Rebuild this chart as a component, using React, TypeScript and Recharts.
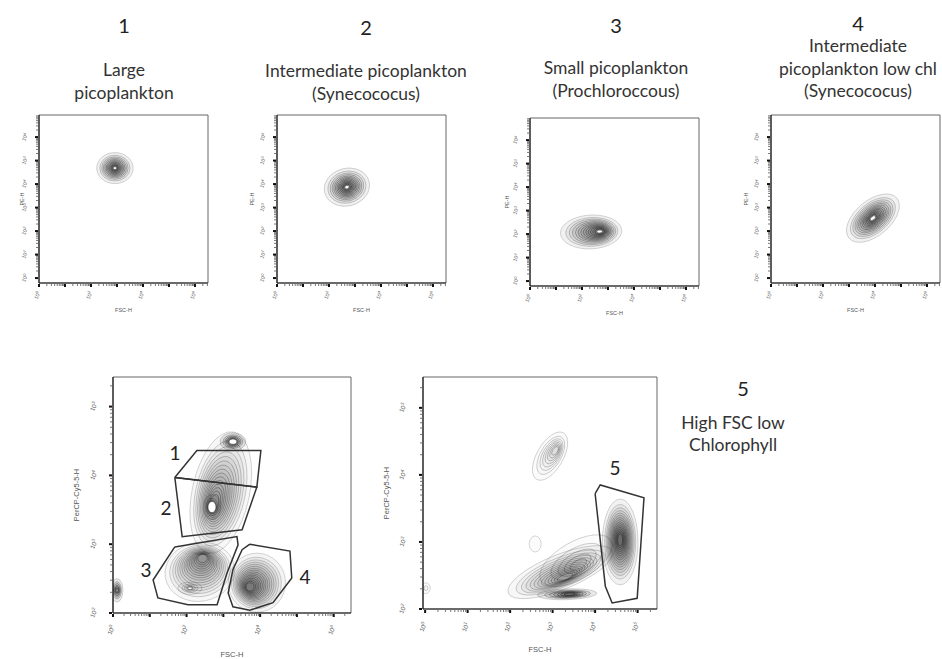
import React from "react";
import { ScatterChart, Scatter, XAxis, YAxis, ReferenceArea } from "recharts";

// ---------- text ----------
const panelNumbers = ["1", "2", "3", "4"];
const panelTitles = [
	["Large", "picoplankton"],
	["Intermediate picoplankton", "(Synecococus)"],
	["Small picoplankton", "(Prochloroccous)"],
	["Intermediate", "picoplankton low chl", "(Synecococus)"],
];
const sideNumber = "5";
const sideTitle = ["High FSC low", "Chlorophyll"];
const gateNames = ["1", "2", "3", "4", "5"];

// ---------- axis ticks (log10 exponents) ----------
const topXMajor = [0, 1, 2, 3, 4, 5, 6];
const topXLabelled = [0, 2, 4, 6];
const topYMajor = [0, 1, 2, 3, 4, 5, 6];
const gateXMajor = [0, 1, 2, 3, 4, 5, 6];
const gateXLabelled = [0, 2, 4, 6];
const gateYMajor = [2, 3, 4, 5];
const fscXMajor = [0, 1, 2, 3, 4, 5];
const fscYMajor = [2, 3, 4, 5];
const minorSteps = [0.301, 0.477, 0.602, 0.699, 0.778, 0.845, 0.903, 0.954];

// ---------- populations: centre / radii in log units, ring count, darkness, core shift ----------
const largePico = [{ x: 2.92, y: 4.68, rx: 0.7, ry: 0.66, rot: 0, levels: 11, dark: 1.1, sx: 0, sy: 0, hole: 0.08 }];
const interPico = [{ x: 2.69, y: 3.87, rx: 0.88, ry: 0.8, rot: -15, levels: 12, dark: 1.0, sx: 0, sy: 0, hole: 0.08 }];
const smallPico = [{ x: 2.35, y: 2.09, rx: 1.18, ry: 0.72, rot: -3, levels: 13, dark: 1.0, sx: 0.3, sy: 0, hole: 0.06 }];
const interLowChl = [{ x: 3.92, y: 2.55, rx: 1.2, ry: 0.75, rot: -40, levels: 13, dark: 0.9, sx: 0, sy: 0, hole: 0.1 }];

const gatedPops = [
	{ x: 2.93, y: 3.75, rx: 0.78, ry: 0.9, rot: 12, levels: 15, dark: 0.6, sx: -0.15, sy: -0.2, hole: 0 },
	{ x: 3.26, y: 4.49, rx: 0.35, ry: 0.13, rot: 0, levels: 7, dark: 1.8, sx: 0, sy: 0, hole: 0.3 },
	{ x: 2.69, y: 3.54, rx: 0.24, ry: 0.18, rot: 0, levels: 5, dark: 1.3, sx: 0, sy: 0, hole: 0.45 },
	{ x: 2.36, y: 2.6, rx: 0.95, ry: 0.43, rot: -10, levels: 16, dark: 0.6, sx: 0.15, sy: 0.45, hole: 0 },
	{ x: 2.09, y: 2.36, rx: 0.33, ry: 0.09, rot: 0, levels: 4, dark: 0.5, sx: 0, sy: 0, hole: 0.2 },
	{ x: 3.91, y: 2.44, rx: 0.78, ry: 0.43, rot: 0, levels: 16, dark: 0.75, sx: -0.25, sy: -0.15, hole: 0 },
	{ x: 0.11, y: 2.33, rx: 0.16, ry: 0.17, rot: 0, levels: 6, dark: 1.5, sx: 0, sy: 0, hole: 0 },
];

const fscPops = [
	{ x: 2.94, y: 4.28, rx: 0.31, ry: 0.4, rot: 30, levels: 8, dark: 0.3, sx: 0.15, sy: 0.3, hole: 0 },
	{ x: 2.59, y: 2.97, rx: 0.14, ry: 0.12, rot: 0, levels: 1, dark: 0.3, sx: 0, sy: 0, hole: 0 },
	{ x: 3.55, y: 2.72, rx: 0.95, ry: 0.28, rot: -30, levels: 5, dark: 0.3, sx: 0, sy: -0.3, hole: 0 },
	{ x: 3.18, y: 2.55, rx: 1.32, ry: 0.26, rot: -22, levels: 13, dark: 0.55, sx: 0.05, sy: -0.4, hole: 0 },
	{ x: 3.34, y: 2.22, rx: 0.7, ry: 0.08, rot: -2, levels: 7, dark: 1.7, sx: 0.1, sy: 0, hole: 0 },
	{ x: 4.59, y: 3.0, rx: 0.42, ry: 0.64, rot: 0, levels: 16, dark: 0.9, sx: 0, sy: 0.05, hole: 0 },
	{ x: 0.02, y: 2.31, rx: 0.1, ry: 0.08, rot: 0, levels: 2, dark: 0.3, sx: 0, sy: 0, hole: 0 },
];

// ---------- gates ----------
const gate1 = [
	{ x: 1.68, y: 3.97 }, { x: 2.28, y: 4.36 }, { x: 4.02, y: 4.36 }, { x: 3.91, y: 3.83 }, { x: 1.68, y: 3.97 },
];
const gate2 = [
	{ x: 1.68, y: 3.97 }, { x: 3.91, y: 3.83 }, { x: 3.51, y: 3.21 }, { x: 1.88, y: 3.11 }, { x: 1.68, y: 3.97 },
];
const gate3 = [
	{ x: 1.68, y: 2.96 }, { x: 3.37, y: 3.11 }, { x: 3.4, y: 2.99 }, { x: 3.1, y: 2.58 }, { x: 2.83, y: 2.12 },
	{ x: 2.04, y: 2.12 }, { x: 1.22, y: 2.22 }, { x: 1.09, y: 2.48 }, { x: 1.68, y: 2.96 },
];
const gate4 = [
	{ x: 3.72, y: 3.0 }, { x: 4.81, y: 2.9 }, { x: 4.86, y: 2.51 }, { x: 4.35, y: 2.15 }, { x: 3.72, y: 2.04 },
	{ x: 3.26, y: 2.09 }, { x: 3.13, y: 2.29 }, { x: 3.26, y: 2.63 }, { x: 3.51, y: 2.92 }, { x: 3.72, y: 3.0 },
];
const gate5 = [
	{ x: 4.0, y: 3.72 }, { x: 4.12, y: 3.85 }, { x: 5.15, y: 3.66 }, { x: 4.99, y: 2.16 }, { x: 4.4, y: 2.09 },
	{ x: 4.24, y: 2.34 }, { x: 4.0, y: 3.72 },
];

// ---------- layout ----------
const topTextLayout = [
	{ cx: 124, numY: 25, lineY: 70 },
	{ cx: 366, numY: 27, lineY: 71 },
	{ cx: 616, numY: 25, lineY: 68 },
	{ cx: 858, numY: 23, lineY: 46 },
];
const gateLabelPos = [
	{ x: 175, y: 453 },
	{ x: 166, y: 508 },
	{ x: 146, y: 570 },
	{ x: 305, y: 577 },
	{ x: 615, y: 468 },
];

const withMinor = (major: number[], domain: number[]) => {
	const out: number[] = [];
	major.forEach((m) => {
		out.push(m);
		minorSteps.forEach((s) => {
			if (m + s <= domain[1]) out.push(m + s);
		});
	});
	return out.filter((v) => v >= domain[0] && v <= domain[1]);
};

const NoDot = () => <g />;

function Contours(props: any) {
	const { cx, cy, payload, kx, ky } = props;
	const { rx, ry, rot, levels, dark, sx, sy, hole } = payload;
	const RX = rx * kx;
	const RY = ry * ky;
	const rings = [];
	let lastX = cx, lastY = cy, lastS = 1;
	for (let i = 0; i < levels; i++) {
		const t = levels > 1 ? i / levels : 0;
		const s = 1 - 0.9 * Math.pow(t, 0.7);
		const ox = sx * RX * t;
		const oy = -sy * RY * t;
		lastX = cx + ox; lastY = cy + oy; lastS = s;
		rings.push(
			<ellipse
				key={i}
				cx={cx + ox}
				cy={cy + oy}
				rx={RX * s}
				ry={RY * s}
				fill="#000"
				fillOpacity={Math.min(0.2, 0.055 * dark)}
				stroke="#1e1e1e"
				strokeOpacity={Math.min(1, 0.3 + 0.6 * t * dark)}
				strokeWidth={0.6}
			/>
		);
	}
	return (
		<g transform={`rotate(${rot} ${cx} ${cy})`}>
			{rings}
			{hole > 0 && (
				<ellipse cx={lastX} cy={lastY} rx={RX * Math.max(hole, lastS * 0.6)} ry={RY * Math.max(hole, lastS * 0.6)} fill="#fff" stroke="#333" strokeWidth={0.5} />
			)}
		</g>
	);
}

function AxisTick(props: any) {
	const { x, y, payload, side, labelled, font, gap } = props;
	const v = Number(payload.value);
	const major = Math.abs(v - Math.round(v)) < 1e-6;
	const len = major ? 3 : 2;
	const w = major ? 2 : 1;
	const col = major ? "#111" : "#777";
	const showLabel = major && labelled.includes(Math.round(v));
	if (side === "x") {
		return (
			<g>
				<rect x={x - w / 2} y={y} width={w} height={len} fill={col} />
				{showLabel && (
					<text x={x} y={y + gap} fontSize={font} fill="#555" textAnchor="middle" transform={`rotate(-65 ${x} ${y + gap})`}>
						10<tspan dy={-font * 0.45} fontSize={font * 0.75}>{Math.round(v)}</tspan>
					</text>
				)}
			</g>
		);
	}
	return (
		<g>
			<rect x={x - len} y={y - w / 2} width={len} height={w} fill={col} />
			{showLabel && (
				<text x={x - gap} y={y + font * 0.35} fontSize={font} fill="#555" textAnchor="middle" transform={`rotate(-65 ${x - gap} ${y})`}>
					10<tspan dy={-font * 0.45} fontSize={font * 0.75}>{Math.round(v)}</tspan>
				</text>
			)}
		</g>
	);
}

interface PanelProps {
	left: number; top: number; w: number; h: number;
	xDomain: number[]; yDomain: number[];
	xMajor: number[]; xLabelled: number[]; yMajor: number[];
	pops: any[]; gates?: { x: number; y: number }[][];
	font: number; xGap: number; yGap: number;
	xTitle: string; yTitle: string; titleFont: number; xTitleGap: number; yTitleGap: number;
}

function FlowPanel(p: PanelProps) {
	const Y_W = 40, X_H = 36, PAD = 4;
	const kx = p.w / (p.xDomain[1] - p.xDomain[0]);
	const ky = p.h / (p.yDomain[1] - p.yDomain[0]);
	return (
		<>
			<div style={{ position: "absolute", left: p.left - Y_W, top: p.top - PAD }}>
				<ScatterChart width={p.w + Y_W + PAD} height={p.h + X_H + PAD} margin={{ top: PAD, right: PAD, bottom: 0, left: 0 }}>
					<XAxis
						type="number" dataKey="x" domain={p.xDomain} allowDataOverflow
						ticks={withMinor(p.xMajor, p.xDomain)} interval={0} tickSize={1} tickMargin={0} tickLine={false}
						height={X_H} axisLine={{ stroke: "#222", strokeWidth: 1.2 }}
						tick={<AxisTick side="x" labelled={p.xLabelled} font={p.font} gap={p.xGap} />}
					/>
					<YAxis
						type="number" dataKey="y" domain={p.yDomain} allowDataOverflow
						ticks={withMinor(p.yMajor, p.yDomain)} interval={0} tickSize={1} tickMargin={0} tickLine={false}
						width={Y_W} axisLine={{ stroke: "#222", strokeWidth: 1.2 }}
						tick={<AxisTick side="y" labelled={p.yMajor} font={p.font} gap={p.yGap} />}
					/>
					<ReferenceArea x1={p.xDomain[0]} x2={p.xDomain[1]} y1={p.yDomain[0]} y2={p.yDomain[1]} fill="none" stroke="#666" strokeWidth={1} ifOverflow="visible" />
					<Scatter data={p.pops} isAnimationActive={false} shape={(s: any) => <Contours {...s} kx={kx} ky={ky} />} />
					{(p.gates || []).map((g, i) => (
						<Scatter key={i} data={g} isAnimationActive={false} shape={NoDot} line={{ stroke: "#333", strokeWidth: 1.5 }} />
					))}
				</ScatterChart>
			</div>
			<div style={{ position: "absolute", left: p.left + p.w / 2 - 40, width: 80, top: p.top + p.h + p.xTitleGap - 5, textAlign: "center", fontSize: p.titleFont, lineHeight: "10px", color: "#555", fontFamily: "Liberation Sans" }}>
				{p.xTitle}
			</div>
			<div style={{ position: "absolute", left: p.left - p.yTitleGap - 50, width: 100, top: p.top + p.h / 2 - 5, textAlign: "center", fontSize: p.titleFont, lineHeight: "10px", color: "#555", fontFamily: "Liberation Sans", transform: "rotate(-90deg)" }}>
				{p.yTitle}
			</div>
		</>
	);
}

const topPanels = [
	{ left: 39, top: 115, pops: largePico, yTitleGap: 17 },
	{ left: 277, top: 115, pops: interPico, yTitleGap: 25 },
	{ left: 530, top: 118, pops: smallPico, yTitleGap: 23 },
	{ left: 771, top: 115, pops: interLowChl, yTitleGap: 25 },
];

export default function App() {
	return (
		<div style={{ position: "absolute", left: 0, top: 0, width: 942, height: 659, overflow: "hidden", background: "#fff", fontFamily: "Lato, 'Open Sans', sans-serif", color: "#333" }}>
			{topTextLayout.map((t, i) => (
				<React.Fragment key={i}>
					<div style={{ position: "absolute", left: t.cx - 30, width: 60, top: t.numY - 12, lineHeight: "24px", fontSize: 20, textAlign: "center", color: "#222" }}>
						{panelNumbers[i]}
					</div>
					<div style={{ position: "absolute", left: t.cx - 130, width: 260, top: t.lineY - 11, lineHeight: "22.5px", fontSize: 17.5, textAlign: "center", whiteSpace: "nowrap" }}>
						{panelTitles[i].map((l, j) => <div key={j}>{l}</div>)}
					</div>
				</React.Fragment>
			))}

			{topPanels.map((tp, i) => (
				<FlowPanel
					key={i} left={tp.left} top={tp.top} w={169} h={168}
					xDomain={[0, 6.5]} yDomain={[-0.21, 6.94]}
					xMajor={topXMajor} xLabelled={topXLabelled} yMajor={topYMajor}
					pops={tp.pops} font={5} xGap={12} yGap={13}
					xTitle="FSC-H" yTitle="PE-H" titleFont={5.5} xTitleGap={27} yTitleGap={tp.yTitleGap}
				/>
			))}

			<FlowPanel
				left={113} top={377} w={238} h={236}
				xDomain={[0, 6.47]} yDomain={[2, 5.43]}
				xMajor={gateXMajor} xLabelled={gateXLabelled} yMajor={gateYMajor}
				pops={gatedPops} gates={[gate1, gate2, gate3, gate4]} font={6} xGap={17} yGap={18}
				xTitle="FSC-H" yTitle="PerCP-Cy5-5-H" titleFont={7.5} xTitleGap={42} yTitleGap={36}
			/>
			<FlowPanel
				left={423} top={377} w={234} h={232}
				xDomain={[-0.05, 5.456]} yDomain={[2, 5.46]}
				xMajor={fscXMajor} xLabelled={fscXMajor} yMajor={fscYMajor}
				pops={fscPops} gates={[gate5]} font={6} xGap={18} yGap={19}
				xTitle="FSC-H" yTitle="PerCP-Cy5-5-H" titleFont={7.5} xTitleGap={41} yTitleGap={36}
			/>

			{gateLabelPos.map((g, i) => (
				<div key={i} style={{ position: "absolute", left: g.x - 15, width: 30, top: g.y - 12, lineHeight: "24px", fontSize: 19, textAlign: "center", color: "#222" }}>
					{gateNames[i]}
				</div>
			))}

			<div style={{ position: "absolute", left: 743 - 30, width: 60, top: 388 - 12, lineHeight: "24px", fontSize: 20, textAlign: "center", color: "#222" }}>
				{sideNumber}
			</div>
			<div style={{ position: "absolute", left: 733 - 90, width: 180, top: 423 - 11, lineHeight: "22px", fontSize: 17.5, textAlign: "center" }}>
				{sideTitle.map((l, j) => <div key={j}>{l}</div>)}
			</div>
		</div>
	);
}
